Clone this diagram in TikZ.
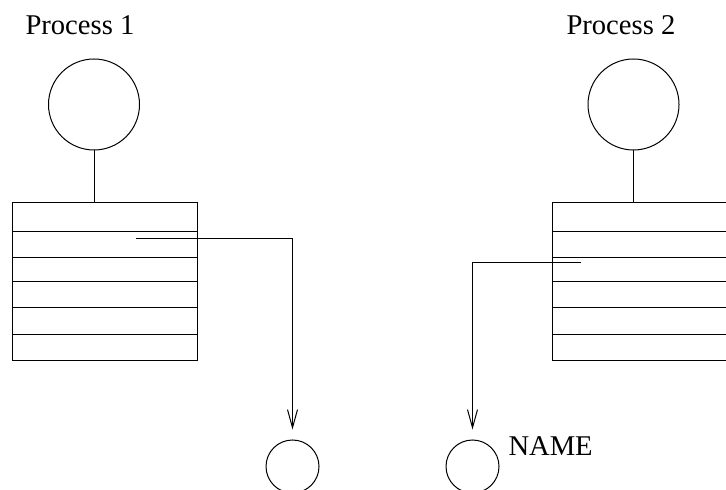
\documentclass[tikz,border=0pt]{standalone}
\usepackage{fontspec}
\setmainfont{Liberation Serif}
\usetikzlibrary{arrows.meta}

\begin{document}
\begin{tikzpicture}[x=0.5pt,y=-0.5pt,line width=0.5pt,
  proc/.style={draw,circle,inner sep=0pt,minimum size=45.5pt},
  obj/.style={draw,circle,inner sep=0pt,minimum size=26.5pt},
  tbl/.style={draw,inner sep=0pt,minimum width=92.5pt,minimum height=79pt},
  lbl/.style={inner sep=0pt,anchor=base west,font=\fontsize{14.3}{17}\selectfont},
  ptr/.style={-{Straight Barb[length=9pt,width=5pt]},shorten >=5pt}]

% Frame (the picture is cut at its edges)
\useasboundingbox (0,0) rectangle (726,490);
\clip (0,0) rectangle (726,490);

% Process labels
\node[lbl] (lab1) at (25,35) {Process 1};
\node[lbl] (lab2) at (566,35) {Process 2};

% Processes
\node[proc] (p1) at (94,104.5) {};
\node[proc] (p2) at (633.5,104.5) {};

% Tables
\node[tbl] (t1) at (104.5,282) {};
\node[tbl] (t2) at (644.5,282) {};
\foreach \y in {232,258,282,308,335} {
  \draw (12,\y) -- (197,\y);
  \draw (552,\y) -- (737,\y);
}

% Process to table
\draw (p1.south) -- (p1.south |- t1.north);
\draw (p2.south) -- (p2.south |- t2.north);

% Objects
\node[obj] (o1) at (292.5,466.5) {};
\node[obj] (o2) at (472.5,466.5) {};
\node[lbl] (name) at (508,455) {NAME};

% Pointers
\coordinate (s1) at (136,239);
\coordinate (s2) at (581,263);
\draw[ptr] (s1) -| (o1.north);
\draw[ptr] (s2) -| (o2.north);

\end{tikzpicture}
\end{document}
